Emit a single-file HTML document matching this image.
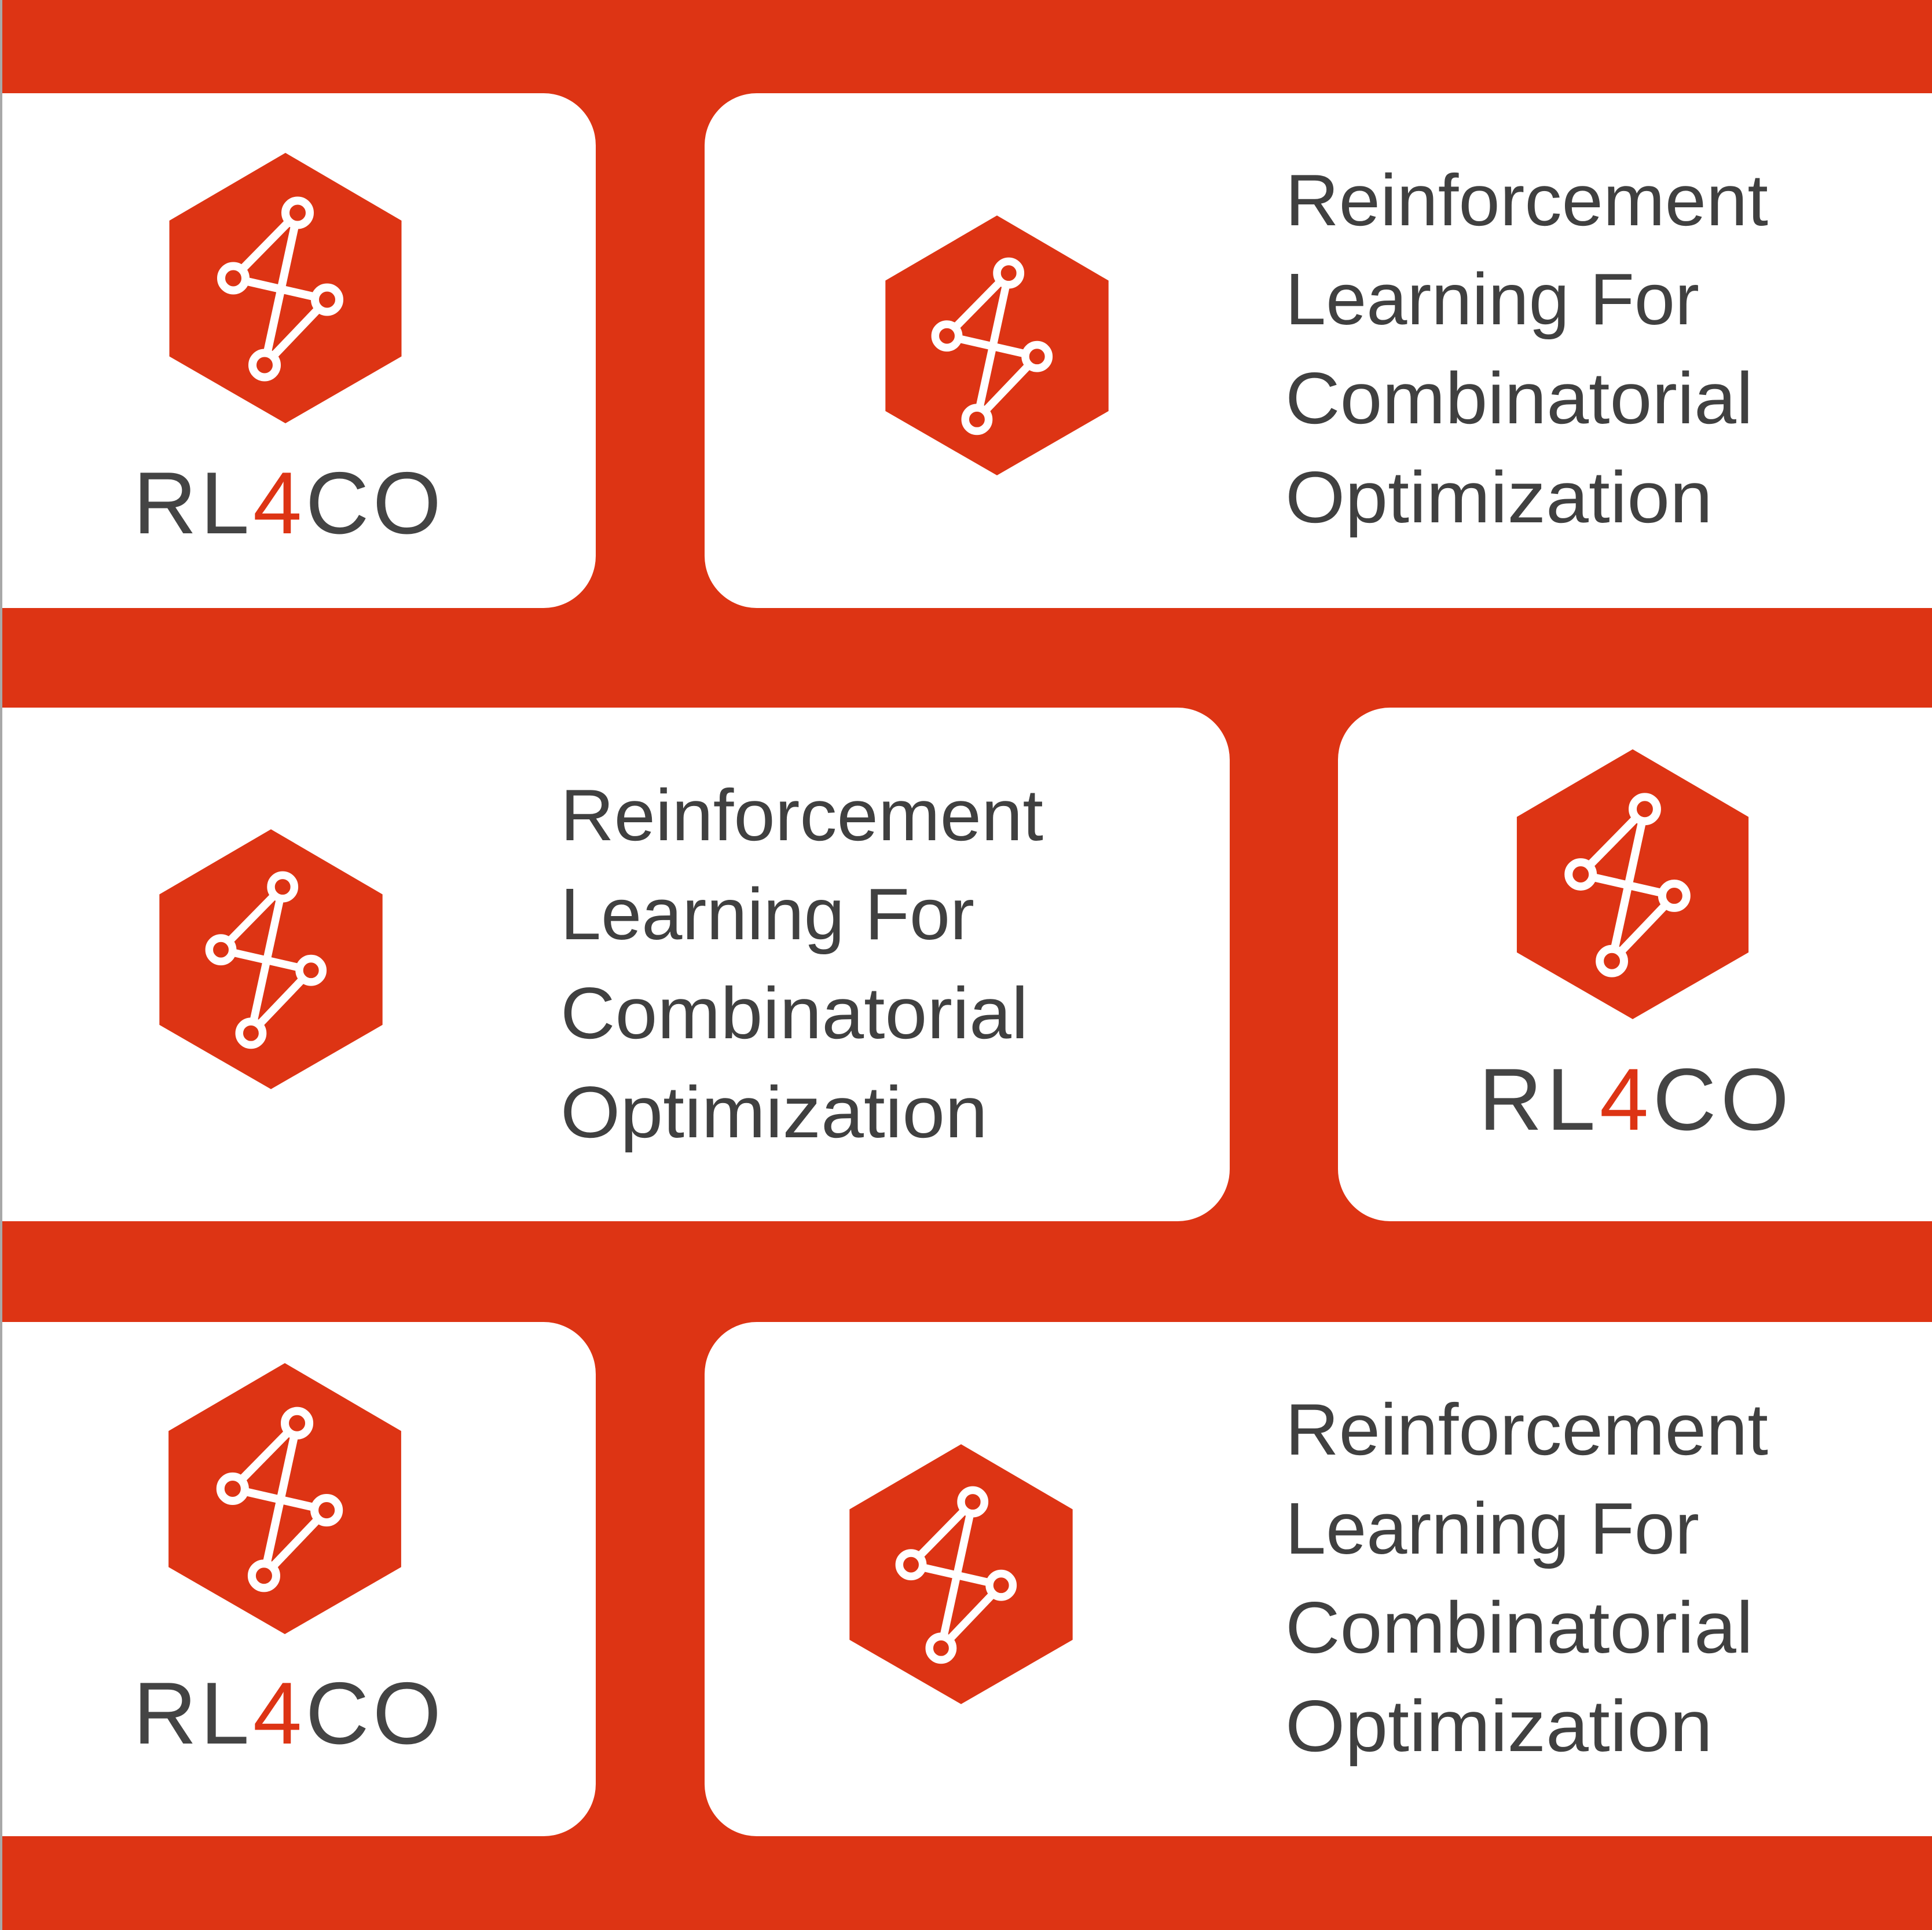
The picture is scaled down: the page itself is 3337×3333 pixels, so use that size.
<!DOCTYPE html>
<html><head><meta charset="utf-8"><style>
html,body{margin:0;padding:0;background:#DD3414;}
svg{display:block}
</style></head><body>
<svg width="3337" height="3333" viewBox="0 0 3337 3333" xmlns="http://www.w3.org/2000/svg">
<defs>
<g id="logo">
<polygon points="0,-233.5 200.5,-116.5 200.5,118 0,233.5 -200.5,118 -200.5,-116.5" fill="#DD3414"/>
<g stroke="#fff" stroke-width="14" fill="none" stroke-linecap="round">
<line x1="21" y1="-130" x2="-90" y2="-17"/>
<line x1="21" y1="-130" x2="-36" y2="133"/>
<line x1="-90" y1="-17" x2="72" y2="20"/>
<line x1="72" y1="20" x2="-36" y2="133"/>
</g>
<g fill="#DD3414" stroke="#fff" stroke-width="14">
<circle cx="21" cy="-130" r="21"/>
<circle cx="-90" cy="-17" r="21"/>
<circle cx="72" cy="20" r="21"/>
<circle cx="-36" cy="133" r="21"/>
</g>
</g>
</defs>
<rect x="0" y="0" width="3337" height="3333" fill="#DD3414"/>
<rect x="0" y="0" width="4" height="3333" fill="#a8a8a8"/>

<!-- Row 1 -->
<path d="M4,161 H939 A90,90 0 0 1 1029,251 V960 A90,90 0 0 1 939,1050 H4 Z" fill="#fff"/>
<path d="M3400,161 H1307 A90,90 0 0 0 1217,251 V960 A90,90 0 0 0 1307,1050 H3400 Z" fill="#fff"/>
<!-- Row 2 -->
<path d="M4,1222 H2034 A90,90 0 0 1 2124,1312 V2019 A90,90 0 0 1 2034,2109 H4 Z" fill="#fff"/>
<path d="M3400,1222 H2401 A90,90 0 0 0 2311,1312 V2019 A90,90 0 0 0 2401,2109 H3400 Z" fill="#fff"/>
<!-- Row 3 -->
<path d="M4,2283 H939 A90,90 0 0 1 1029,2373 V3081 A90,90 0 0 1 939,3171 H4 Z" fill="#fff"/>
<path d="M3400,2283 H1307 A90,90 0 0 0 1217,2373 V3081 A90,90 0 0 0 1307,3171 H3400 Z" fill="#fff"/>

<use href="#logo" transform="translate(493,497.5) scale(1)"/>
<use href="#logo" transform="translate(1722,596.5) scale(0.961)"/>
<use href="#logo" transform="translate(468,1656.5) scale(0.961)"/>
<use href="#logo" transform="translate(2820,1527) scale(0.998)"/>
<use href="#logo" transform="translate(492,2588) scale(1.002)"/>
<use href="#logo" transform="translate(1660,2718.5) scale(0.961)"/>

<g font-family="'Liberation Sans', sans-serif" font-size="152" fill="#444">
<text x="230" y="921" textLength="532" lengthAdjust="spacing">RL<tspan fill="#DD3414">4</tspan>CO</text>
<text x="2554" y="1951" textLength="536" lengthAdjust="spacing">RL<tspan fill="#DD3414">4</tspan>CO</text>
<text x="230" y="3011" textLength="532" lengthAdjust="spacing">RL<tspan fill="#DD3414">4</tspan>CO</text>
</g>

<g font-family="'Liberation Sans', sans-serif" font-size="126" fill="#404040">
<text x="2220" y="389" textLength="834" lengthAdjust="spacingAndGlyphs">Reinforcement</text>
<text x="2220" y="560" textLength="715" lengthAdjust="spacingAndGlyphs">Learning For</text>
<text x="2220" y="731" textLength="808" lengthAdjust="spacingAndGlyphs">Combinatorial</text>
<text x="2220" y="902" textLength="738" lengthAdjust="spacingAndGlyphs">Optimization</text>

<text x="968" y="1451" textLength="834" lengthAdjust="spacingAndGlyphs">Reinforcement</text>
<text x="968" y="1622" textLength="715" lengthAdjust="spacingAndGlyphs">Learning For</text>
<text x="968" y="1793" textLength="808" lengthAdjust="spacingAndGlyphs">Combinatorial</text>
<text x="968" y="1964" textLength="738" lengthAdjust="spacingAndGlyphs">Optimization</text>

<text x="2220" y="2512" textLength="834" lengthAdjust="spacingAndGlyphs">Reinforcement</text>
<text x="2220" y="2683" textLength="715" lengthAdjust="spacingAndGlyphs">Learning For</text>
<text x="2220" y="2854" textLength="808" lengthAdjust="spacingAndGlyphs">Combinatorial</text>
<text x="2220" y="3024" textLength="738" lengthAdjust="spacingAndGlyphs">Optimization</text>
</g>
</svg>
</body></html>
